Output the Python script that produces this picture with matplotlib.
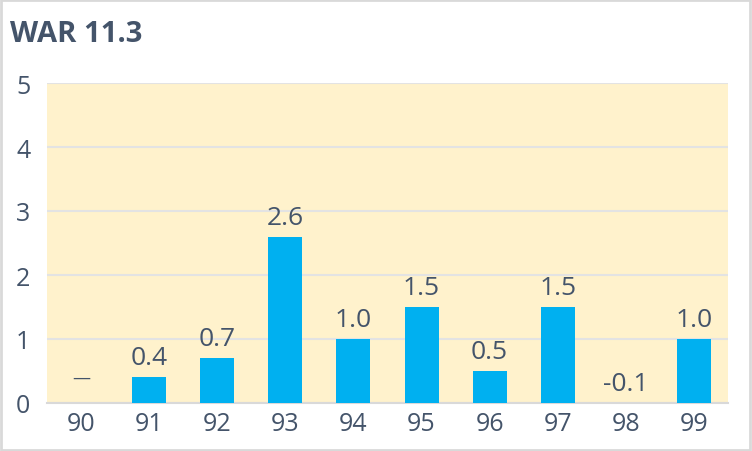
import matplotlib
matplotlib.use("Agg")
import matplotlib.pyplot as plt
from matplotlib.patches import Rectangle

categories = ["90", "91", "92", "93", "94", "95", "96", "97", "98", "99"]
values = [None, 0.4, 0.7, 2.6, 1.0, 1.5, 0.5, 1.5, -0.1, 1.0]
labels = ["–", "0.4", "0.7", "2.6", "1.0", "1.5", "0.5", "1.5", "-0.1", "1.0"]
title = "WAR 11.3"
yticks = [0, 1, 2, 3, 4, 5]

txt = "#44546A"
plt.rcParams['font.family'] = ['Open Sans', 'DejaVu Sans']

fig = plt.figure(figsize=(7.52, 4.52), dpi=100)
fig.patch.set_facecolor("white")
fig.add_artist(Rectangle((0.001, 0.002), 0.997, 0.995, transform=fig.transFigure,
                         fill=False, edgecolor="#D9D9D9", linewidth=2))

ax = fig.add_axes([47/752, 48/452, 681/752, 320/452])
ax.set_facecolor("#FFF2CC")
x = list(range(len(categories)))
hv = [v if v is not None else 0 for v in values]
ax.bar(x, hv, width=0.5, color="#00B0F0", zorder=3)
ax.set_xlim(-0.5, len(categories) - 0.5)
ax.set_ylim(0, 5)
ax.set_yticks(yticks)
ax.set_xticks(x)
ax.set_xticklabels(categories)
ax.yaxis.grid(True, color="#E3E3E3", linewidth=1.5, zorder=1)
ax.set_axisbelow(True)
for s in ["top", "right", "left"]:
    ax.spines[s].set_visible(False)
ax.spines["bottom"].set_color("#D9D9D9")
ax.spines["bottom"].set_linewidth(1.5)
ax.tick_params(axis="both", length=0, labelsize=18, labelcolor=txt)
ax.tick_params(axis="y", pad=12)
ax.tick_params(axis="x", pad=6)

for xi, v, lab in zip(x, hv, labels):
    if lab == "–":
        ax.annotate("—", (xi, 0), xytext=(0, 18), textcoords="offset points",
                    ha="center", va="center", fontsize=13, color=txt)
    else:
        ax.annotate(lab, (xi, max(v, 0)), xytext=(0, 14), textcoords="offset points",
                    ha="center", va="center", fontsize=19, color=txt)

fig.text(10/752, 1 - 34/452, title, fontsize=21, fontweight="bold", color=txt,
         ha="left", va="center")

fig.savefig("out.png", dpi=100)
